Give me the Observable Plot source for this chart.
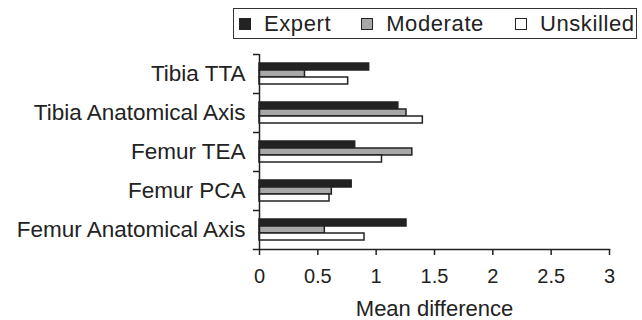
<!DOCTYPE html>
<html>
<head>
<meta charset="utf-8">
<script src="https://cdn.jsdelivr.net/npm/d3@7"></script>
<script src="https://cdn.jsdelivr.net/npm/@observablehq/plot@0.6"></script>
<style>
  html, body { margin: 0; padding: 0; background: #fff; }
  body { width: 642px; height: 320px; overflow: hidden; font-family: "Liberation Sans", Arial, sans-serif; color: #222; }
  #legend { position: relative; height: 46px; }
  #legend .box { position: absolute; left: 233px; top: 8px; width: 402px; height: 29px; border: 1.5px solid #333; display: flex; align-items: center; box-sizing: content-box; }
  #legend .item { display: flex; align-items: center; font-size: 22px; letter-spacing: 0.6px; }
  #legend .sw { width: 10px; height: 10px; border: 1px solid #222; margin-right: 13px; }
</style>
</head>
<body>
<div id="legend"><div class="box"></div></div>
<div id="chart"></div>
<script>
const categories = ["Tibia TTA", "Tibia Anatomical Axis", "Femur TEA", "Femur PCA", "Femur Anatomical Axis"];
const series = ["Expert", "Moderate", "Unskilled"];
const expert = [0.94, 1.19, 0.82, 0.79, 1.26];
const moderate = [0.39, 1.26, 1.31, 0.62, 0.56];
const unskilled = [0.76, 1.40, 1.05, 0.60, 0.90];
const xTicks = [0, 0.5, 1, 1.5, 2, 2.5, 3];
const xLabel = "Mean difference";
const fills = ["#222222", "#a8a8a8", "#ffffff"];

const valuesBySeries = [expert, moderate, unskilled];
const data = categories.flatMap((c, i) => series.map((s, j) => ({category: c, series: s, value: valuesBySeries[j][i]})));

// legend
const box = document.querySelector("#legend .box");
const gaps = [5, 30, 31];
series.forEach((s, j) => {
  const item = document.createElement("div");
  item.className = "item";
  item.style.marginLeft = gaps[j] + "px";
  const sw = document.createElement("span");
  sw.className = "sw";
  sw.style.background = fills[j];
  const t = document.createElement("span");
  t.textContent = s;
  item.appendChild(sw);
  item.appendChild(t);
  box.appendChild(item);
});

const chart = Plot.plot({
  width: 642,
  height: 274,
  marginTop: 8,
  marginBottom: 71,
  marginLeft: 259,
  marginRight: 33,
  style: {fontFamily: '"Liberation Sans", Arial, sans-serif', fontSize: "20px", color: "#222", background: "#fff", overflow: "visible"},
  x: {domain: [0, 3]},
  y: {domain: series, paddingInner: 0, paddingOuter: 0.94, axis: null},
  fy: {domain: categories, padding: 0, axis: null},
  color: {domain: series, range: fills},
  marks: [
    Plot.barX(data, {x: "value", y: "series", fy: "category", fill: "series", stroke: "#222", strokeWidth: 1.5}),
    Plot.ruleX([0], {stroke: "#222", strokeWidth: 1.5}),
    Plot.frame({anchor: "bottom", facetAnchor: "bottom", insetLeft: -6, stroke: "#222", strokeWidth: 1.5}),
    Plot.axisFy({anchor: "left", tickSize: 0, tickPadding: 14, fontSize: 22.5, label: null}),
    Plot.axisFy({anchor: "left", tickSize: 6, tickFormat: () => "", dy: -19.5, stroke: "#222", strokeWidth: 1.5, label: null}),
    Plot.axisX({anchor: "bottom", ticks: xTicks, tickFormat: d => String(d), tickSize: 6, tickPadding: 13, strokeWidth: 1.5, stroke: "#222", label: null}),
    Plot.text([xLabel], {text: d => d, frameAnchor: "bottom", facetAnchor: "bottom", dy: 66, fontSize: 22, fill: "#222"})
  ]
});
document.getElementById("chart").appendChild(chart);
</script>
</body>
</html>
